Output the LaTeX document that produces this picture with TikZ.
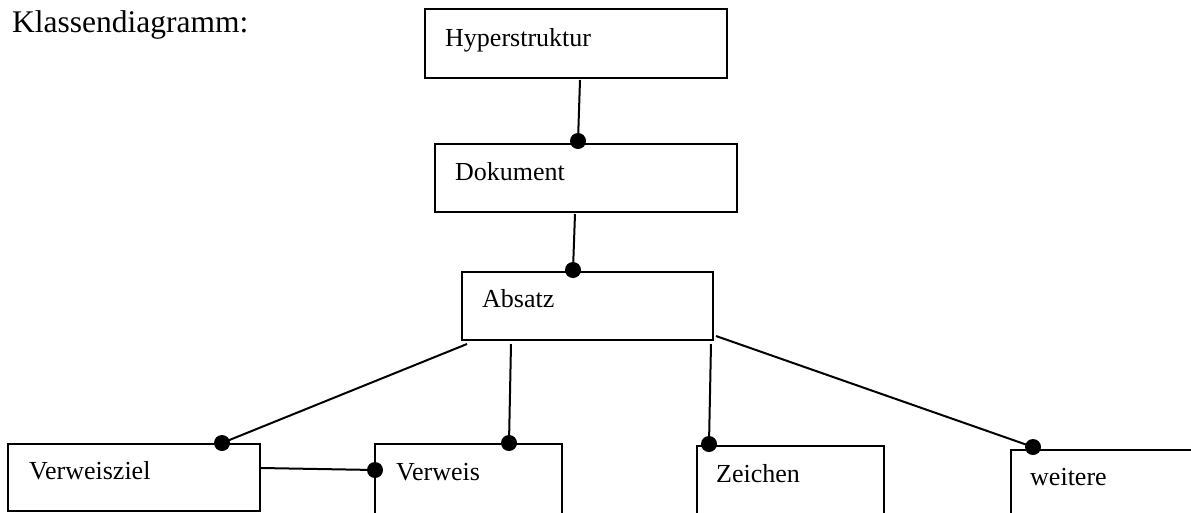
\documentclass[tikz,border=0pt]{standalone}
\usepackage{fontspec}
\setmainfont{Liberation Serif}
\begin{document}
\begin{tikzpicture}[x=1pt,y=-1pt,
  box/.style={draw,line width=2.2pt,rectangle,inner sep=0pt,outer sep=0pt,anchor=north west},
  lbl/.style={anchor=base west,inner sep=0pt,font=\fontsize{26}{30}\selectfont},
  conn/.style={line width=2pt},
  dot/.style={circle,fill=black,inner sep=0pt,minimum size=16pt}]
\useasboundingbox (0,0) rectangle (1191,512);
\clip (0,0) rectangle (1191,512);
\node[anchor=base west,inner sep=0pt,font=\fontsize{31.5}{36}\selectfont] (title) at (12,32) {Klassendiagramm:};
% boxes
\node[box,minimum width=302pt,minimum height=69pt] (hyp) at (425,9) {};
\node[box,minimum width=302pt,minimum height=68pt] (dok) at (435,144) {};
\node[box,minimum width=251pt,minimum height=68pt] (abs) at (462,272) {};
\node[box,minimum width=252pt,minimum height=67pt] (vz) at (8,444) {};
\node[box,minimum width=187pt,minimum height=100pt] (vw) at (375,444) {};
\node[box,minimum width=187pt,minimum height=100pt] (zei) at (697,446) {};
\node[box,minimum width=300pt,minimum height=100pt] (wei) at (1011,450) {};
% labels
\node[lbl] (thyp) at ([shift={(20,37)}]hyp.north west) {Hyperstruktur};
\node[lbl] (tdok) at ([shift={(20,36)}]dok.north west) {Dokument};
\node[lbl] (tabs) at ([shift={(20,35)}]abs.north west) {Absatz};
\node[lbl] (tvz) at ([shift={(21,35)}]vz.north west) {Verweisziel};
\node[lbl] (tvw) at ([shift={(21,36)}]vw.north west) {Verweis};
\node[lbl] (tzei) at ([shift={(19,36)}]zei.north west) {Zeichen};
\node[lbl] (twei) at ([shift={(19,35)}]wei.north west) {weitere};
% connectors
\draw[conn] ([shift={(155,2)}]hyp.south west) -- ([shift={(143,-3)}]dok.north west) node[dot] (d1) {};
\draw[conn] ([shift={(140,2)}]dok.south west) -- ([shift={(111,-2)}]abs.north west) node[dot] (d2) {};
\draw[conn] ([shift={(5,4)}]abs.south west) -- ([shift={(214,-1)}]vz.north west) node[dot] (d3) {};
\draw[conn] ([shift={(49,4)}]abs.south west) -- ([shift={(134,-1)}]vw.north west) node[dot] (d4) {};
\draw[conn] ([shift={(-2,4)}]abs.south east) -- ([shift={(12,-2)}]zei.north west) node[dot] (d5) {};
\draw[conn] ([shift={(3,-4)}]abs.south east) -- ([shift={(22,-3)}]wei.north west) node[dot] (d6) {};
\draw[conn] ([shift={(1,24)}]vz.north east) -- ([shift={(0,26)}]vw.north west) node[dot] (d7) {};
\end{tikzpicture}
\end{document}
